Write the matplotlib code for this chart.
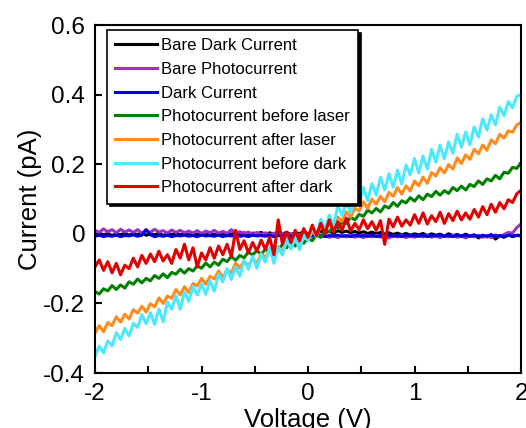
import matplotlib
matplotlib.use("Agg")
import matplotlib.pyplot as plt
import numpy as np

plt.rcParams['font.family'] = ['Liberation Sans', 'DejaVu Sans']

# voltage sweep, 0.04 V step
voltage = np.linspace(-2, 2, 101)

bare_dark = [
    -0.004, 0.002, -0.003, 0.001, -0.005, 0.000, -0.003, 0.002, -0.004, 0.001,
    -0.002, 0.003, -0.004, 0.000, -0.003, 0.002, -0.005, 0.001, -0.002, 0.002,
    -0.003, 0.001, -0.004, 0.002, -0.002, 0.000, -0.004, 0.003, -0.002, 0.001,
    -0.003, 0.002, -0.001, 0.004, -0.002, 0.003, -0.003, 0.002, 0.000, 0.004,
    -0.002, 0.003, -0.001, 0.005, 0.000, 0.004, -0.002, 0.003, 0.001, 0.005,
    0.000, 0.006, 0.002, 0.008, 0.003, 0.007, 0.002, 0.009, 0.004, 0.008,
    0.003, 0.007, 0.002, 0.006, 0.001, 0.005, 0.000, 0.004, -0.001, 0.003,
    -0.002, 0.002, -0.003, 0.001, -0.004, 0.000, -0.003, 0.001, -0.005, 0.000,
    -0.004, -0.001, -0.006, 0.000, -0.005, -0.002, -0.007, -0.001, -0.006, -0.003,
    -0.012, -0.004, -0.009, -0.002, -0.015, -0.006, -0.010, -0.003, -0.008, -0.004,
    -0.005]

bare_photo = [
    0.010, 0.004, 0.014, 0.006, 0.012, 0.003, 0.013, 0.005, 0.011, 0.004,
    0.012, 0.002, 0.010, 0.004, 0.013, 0.005, 0.009, 0.002, 0.011, 0.004,
    0.010, 0.003, 0.008, 0.002, 0.009, 0.001, 0.008, 0.003, 0.010, 0.002,
    0.007, 0.001, 0.012, 0.002, 0.006, 0.000, 0.005, -0.001, 0.004, -0.002,
    0.003, -0.003, 0.002, -0.004, 0.001, -0.005, 0.000, -0.006, -0.002, -0.007,
    -0.003, -0.008, -0.004, -0.009, -0.005, -0.010, -0.006, -0.011, -0.005, -0.009,
    -0.004, -0.010, -0.006, -0.011, -0.005, -0.009, -0.004, -0.010, -0.006, -0.012,
    -0.005, -0.009, -0.004, -0.011, -0.006, -0.010, -0.005, -0.009, -0.004, -0.010,
    -0.006, -0.011, -0.005, -0.009, -0.004, -0.010, -0.006, -0.012, -0.005, -0.009,
    -0.004, -0.010, -0.006, -0.011, -0.003, -0.008, -0.002, 0.004, 0.002, 0.018,
    0.028]

dark = [
    -0.007, -0.004, -0.008, -0.005, -0.007, -0.004, -0.008, -0.005, -0.006, -0.003,
    -0.007, -0.004, 0.012, -0.003, -0.008, -0.005, -0.007, -0.004, -0.008, -0.005,
    -0.006, -0.004, -0.007, -0.005, -0.008, -0.004, -0.006, -0.005, -0.007, -0.004,
    -0.008, -0.005, -0.006, -0.004, -0.007, -0.005, -0.008, -0.004, -0.006, -0.005,
    -0.007, -0.004, -0.008, -0.005, -0.006, -0.004, -0.007, -0.005, -0.008, -0.004,
    -0.006, -0.005, -0.007, -0.004, -0.008, -0.005, -0.006, -0.004, -0.007, -0.005,
    -0.008, -0.004, -0.006, -0.005, -0.007, -0.004, -0.008, -0.005, -0.006, -0.004,
    -0.007, -0.005, -0.008, -0.004, -0.006, -0.005, -0.007, -0.004, -0.008, -0.005,
    -0.006, -0.004, -0.007, -0.005, -0.008, -0.004, -0.006, -0.005, -0.007, -0.004,
    -0.008, -0.005, -0.006, -0.004, -0.007, -0.005, -0.008, -0.004, -0.006, -0.005,
    -0.006]

before_laser = [
    -0.166, -0.173, -0.158, -0.164, -0.149, -0.160, -0.147, -0.156, -0.138, -0.145,
    -0.130, -0.141, -0.128, -0.135, -0.120, -0.128, -0.115, -0.126, -0.111, -0.116,
    -0.102, -0.113, -0.100, -0.107, -0.092, -0.099, -0.084, -0.095, -0.081, -0.090,
    -0.073, -0.080, -0.065, -0.076, -0.062, -0.069, -0.052, -0.061, -0.048, -0.059,
    -0.044, -0.052, -0.035, -0.044, -0.031, -0.040, -0.024, -0.035, -0.020, -0.027,
    -0.012, -0.020, -0.002, -0.010, 0.010, 0.006, 0.024, 0.016, 0.034, 0.030,
    0.048, 0.040, 0.056, 0.050, 0.068, 0.060, 0.073, 0.063, 0.080, 0.074,
    0.090, 0.079, 0.095, 0.089, 0.104, 0.094, 0.109, 0.098, 0.114, 0.107,
    0.122, 0.111, 0.124, 0.116, 0.133, 0.124, 0.137, 0.126, 0.142, 0.136,
    0.152, 0.142, 0.158, 0.152, 0.168, 0.158, 0.177, 0.174, 0.191, 0.188,
    0.205]

after_laser = [
    -0.285, -0.264, -0.281, -0.255, -0.264, -0.238, -0.254, -0.231, -0.245, -0.218,
    -0.228, -0.208, -0.225, -0.201, -0.210, -0.184, -0.200, -0.179, -0.185, -0.160,
    -0.176, -0.152, -0.169, -0.143, -0.150, -0.128, -0.145, -0.122, -0.130, -0.107,
    -0.126, -0.103, -0.112, -0.084, -0.099, -0.078, -0.093, -0.070, -0.086, -0.057,
    -0.068, -0.045, -0.062, -0.038, -0.053, -0.022, -0.037, -0.016, -0.030, -0.003,
    -0.018, 0.007, -0.006, 0.022, 0.011, 0.034, 0.019, 0.048, 0.036, 0.063,
    0.048, 0.073, 0.066, 0.092, 0.073, 0.100, 0.085, 0.108, 0.092, 0.119,
    0.108, 0.133, 0.114, 0.138, 0.123, 0.152, 0.138, 0.163, 0.145, 0.176,
    0.166, 0.190, 0.175, 0.199, 0.186, 0.218, 0.202, 0.227, 0.214, 0.243,
    0.230, 0.255, 0.240, 0.270, 0.259, 0.286, 0.275, 0.296, 0.292, 0.313,
    0.320]

before_dark = [
    -0.351, -0.323, -0.342, -0.308, -0.322, -0.284, -0.304, -0.272, -0.293, -0.257,
    -0.269, -0.232, -0.258, -0.227, -0.260, -0.216, -0.253, -0.196, -0.217, -0.178,
    -0.217, -0.168, -0.194, -0.151, -0.176, -0.144, -0.174, -0.135, -0.165, -0.116,
    -0.138, -0.100, -0.131, -0.095, -0.122, -0.076, -0.102, -0.065, -0.099, -0.059,
    -0.081, -0.040, -0.085, -0.039, -0.061, -0.016, -0.044, -0.009, -0.046, -0.002,
    -0.020, 0.019, -0.008, 0.042, 0.013, 0.054, 0.025, 0.080, 0.052, 0.093,
    0.060, 0.109, 0.085, 0.133, 0.095, 0.144, 0.111, 0.163, 0.126, 0.173,
    0.134, 0.183, 0.143, 0.198, 0.169, 0.216, 0.175, 0.224, 0.186, 0.243,
    0.206, 0.255, 0.216, 0.264, 0.231, 0.286, 0.249, 0.293, 0.256, 0.307,
    0.278, 0.331, 0.298, 0.342, 0.313, 0.364, 0.339, 0.380, 0.362, 0.395,
    0.400]

after_dark = [
    -0.095, -0.075, -0.105, -0.080, -0.112, -0.085, -0.118, -0.090, -0.100, -0.070,
    -0.095, -0.062, -0.085, -0.058, -0.080, -0.050, -0.078, -0.060, -0.085, -0.045,
    -0.070, -0.030, -0.075, -0.040, -0.095, -0.055, -0.075, -0.040, -0.070, -0.035,
    -0.060, -0.030, -0.065, 0.010, -0.045, -0.020, -0.055, -0.025, -0.050, -0.018,
    -0.045, -0.010, -0.060, 0.040, -0.030, 0.005, -0.025, 0.010, -0.020, 0.015,
    -0.010, 0.025, -0.005, 0.030, 0.000, 0.040, 0.005, 0.035, 0.010, 0.045,
    0.008, 0.030, 0.012, 0.040, 0.015, 0.035, 0.010, 0.038, -0.030, 0.042,
    0.020, 0.048, 0.022, 0.040, 0.025, 0.055, 0.030, 0.060, 0.028, 0.052,
    0.035, 0.062, 0.030, 0.058, 0.038, 0.065, 0.040, 0.060, 0.042, 0.070,
    0.048, 0.078, 0.055, 0.085, 0.062, 0.090, 0.072, 0.098, 0.090, 0.115,
    0.125]

series = [
    ('Bare Dark Current', bare_dark, '#000000'),
    ('Bare Photocurrent', bare_photo, '#9B30D0'),
    ('Dark Current', dark, '#0000E0'),
    ('Photocurrent before laser', before_laser, '#008000'),
    ('Photocurrent after laser', after_laser, '#FF8A1E'),
    ('Photocurrent before dark', before_dark, '#4CE8FF'),
    ('Photocurrent after dark', after_dark, '#E00000'),
]

x_ticks = [-2, -1.5, -1, -0.5, 0, 0.5, 1, 1.5, 2]
x_labels = ['-2', '', '-1', '', '0', '', '1', '', '2']
y_ticks = [-0.4, -0.2, 0, 0.2, 0.4, 0.6]
y_labels = ['-0.4', '-0.2', '0', '0.2', '0.4', '0.6']

fig = plt.figure(figsize=(5.26, 4.28), dpi=100)
ax = fig.add_axes([0.1806, 0.1285, 0.81, 0.813])

for nombre, valores, color in series:
    ax.plot(voltage, valores, color=color, lw=2.2, label=nombre)

ax.set_xlim(-2, 2)
ax.set_ylim(-0.4, 0.6)
ax.set_xticks(x_ticks)
ax.set_xticklabels(x_labels)
ax.set_yticks(y_ticks)
ax.set_yticklabels(y_labels)
ax.tick_params(direction='in', length=5, width=1.5, labelsize=17.5, pad=7)

for lado in ax.spines.values():
    lado.set_linewidth(1.5)

ax.set_xlabel('Voltage (V)', fontsize=18.5, labelpad=2)
ax.set_ylabel('Current (pA)', fontsize=18.5, labelpad=1)

leg = ax.legend(loc='upper left', bbox_to_anchor=(0.028, 0.986), borderaxespad=0,
                fontsize=12, frameon=True, fancybox=False, framealpha=1,
                edgecolor='black', handlelength=2.5, handletextpad=0.25,
                labelspacing=0.52, borderpad=0.5,
                shadow={'color': 'black', 'alpha': 1})
leg.get_frame().set_linewidth(1.2)

plt.savefig('out.png', dpi=100)
